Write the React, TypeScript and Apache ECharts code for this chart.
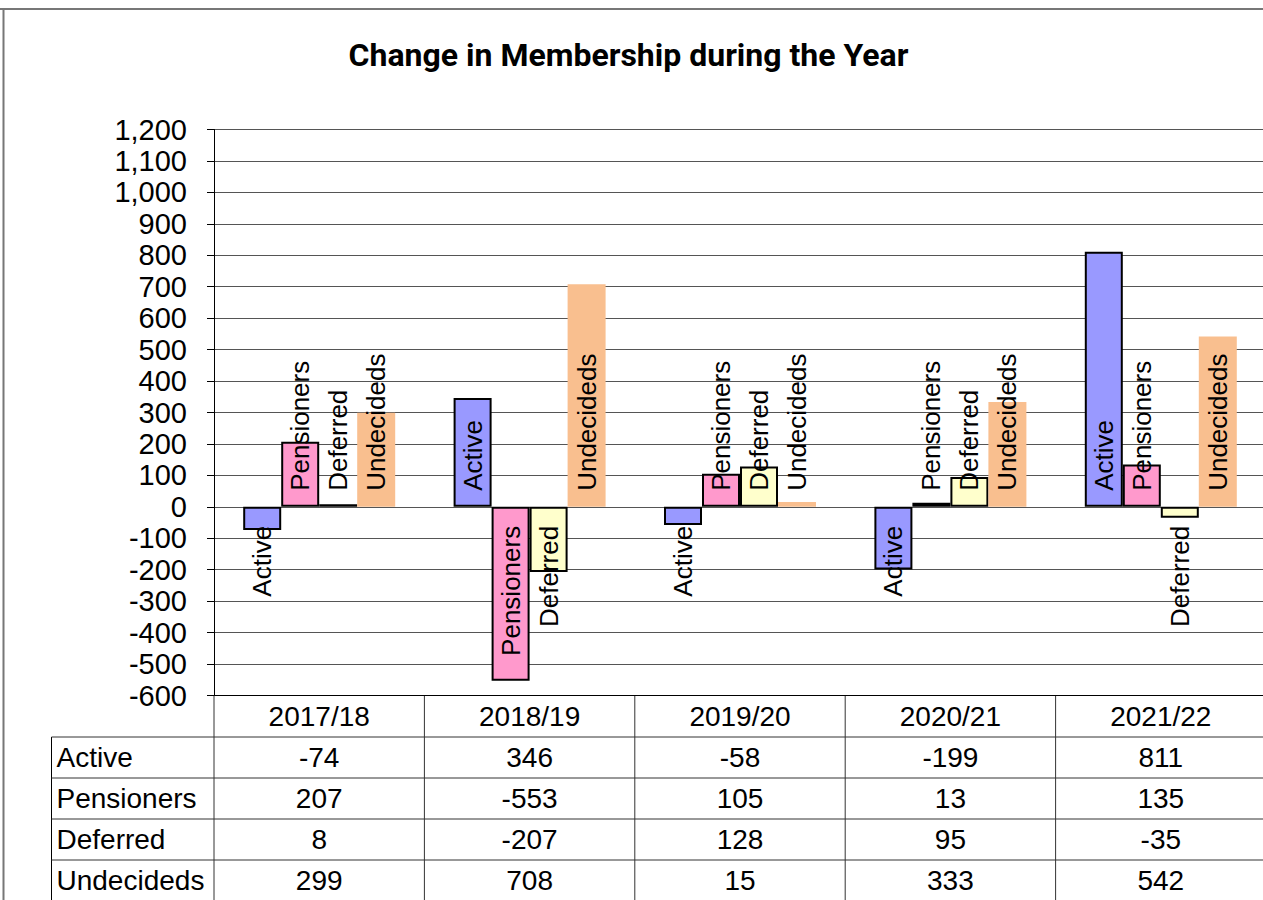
import React, { useEffect, useRef } from "react";
import * as echarts from "echarts";

const categories = ["2017/18", "2018/19", "2019/20", "2020/21", "2021/22"];
const seriesNames = ["Active", "Pensioners", "Deferred", "Undecideds"];
const active = [-74, 346, -58, -199, 811];
const pensioners = [207, -553, 105, 13, 135];
const deferred = [8, -207, 128, 95, -35];
const undecideds = [299, 708, 15, 333, 542];
const yMin = -600;
const yMax = 1200;
const yStep = 100;
const title = "Change in Membership during the Year";

const seriesValues = [active, pensioners, deferred, undecideds];
const seriesColors = ["#9999FF", "#FF99CC", "#FFFFCC", "#F9BF8F"];
const seriesBorder = [true, true, true, false];

const FONT = '"Liberation Sans", Arial, sans-serif';

export default function App() {
  const ref = useRef<HTMLDivElement>(null);
  useEffect(() => {
    if (!ref.current) return;
    const chart = echarts.init(ref.current, null, { renderer: "svg" });
    const series = seriesNames.map((name, si) => ({
      type: "bar",
      name,
      barWidth: 38,
      barGap: "0%",
      data: seriesValues[si].map((v) => ({
        value: v,
        label:
          v >= 0
            ? { position: "insideBottom", align: "left", distance: 16 }
            : { position: "insideTop", align: "right", distance: 19 },
      })),
      itemStyle: {
        color: seriesColors[si],
        borderColor: seriesBorder[si] ? "#000" : seriesColors[si],
        borderWidth: seriesBorder[si] ? 2 : 0,
      },
      label: {
        show: true,
        rotate: 90,
        formatter: "{a}",
        verticalAlign: "middle",
        fontSize: 26,
        fontFamily: FONT,
        color: "#000",
      },
      emphasis: { disabled: true },
    }));
    chart.setOption({
      animation: false,
      backgroundColor: "#fff",
      grid: { left: 214, top: 129.5, width: 1052, height: 566 },
      xAxis: {
        type: "category",
        data: categories,
        axisLine: { show: true, onZero: false, lineStyle: { color: "#000", width: 1 } },
        axisTick: { show: false },
        axisLabel: { show: false },
        splitLine: { show: false },
      },
      yAxis: {
        type: "value",
        min: yMin,
        max: yMax,
        interval: yStep,
        axisLine: { show: true, lineStyle: { color: "#000", width: 1 } },
        axisTick: { show: true, length: 7, lineStyle: { color: "#000" } },
        axisLabel: {
          fontSize: 29,
          fontFamily: FONT,
          color: "#000",
          margin: 27,
          formatter: (v: number) => v.toLocaleString("en-US"),
        },
        splitLine: { show: true, lineStyle: { color: "#555", width: 1 } },
      },
      series,
    });

    // Data table and frame, positioned from the chart's own scales
    const xs = categories.map((_, i) => chart.convertToPixel({ xAxisIndex: 0 }, i) as number);
    const half = (xs[1] - xs[0]) / 2;
    const bottomY = chart.convertToPixel({ yAxisIndex: 0 }, yMin) as number;
    const headerH = 41.5;
    const rowH = 41;
    const tableLeft = 51.5;
    const tableRight = xs[xs.length - 1] + half;
    const pageBottom = 900;
    const g: any[] = [];
    const line = (x1: number, y1: number, x2: number, y2: number, stroke = "#000", lw = 1) =>
      g.push({ type: "line", silent: true, shape: { x1, y1, x2, y2 }, style: { stroke, lineWidth: lw } });
    const text = (t: string, x: number, y: number, align: string, size = 28, weight = "normal", family = FONT) =>
      g.push({
        type: "text",
        silent: true,
        x,
        y,
        style: {
          text: t,
          align,
          verticalAlign: "middle",
          fontSize: size,
          fontWeight: weight,
          fontFamily: family,
          fill: "#000",
        },
      });
    // outer frame
    line(0, 9, 1270, 9, "#777", 2);
    line(3.5, 9, 3.5, 900, "#777", 2);
    // title
    text(title, 628.5, 55, "center", 32, "bold", 'Roboto, "Noto Sans", sans-serif');
    // vertical column separators
    xs.forEach((x) => line(x - half, bottomY, x - half, pageBottom, "#333", 1));
    line(tableRight, bottomY, tableRight, pageBottom, "#333", 1);
    line(tableLeft, bottomY + headerH, tableLeft, pageBottom, "#000", 1);
    // header
    categories.forEach((c, i) => text(c, xs[i], bottomY + headerH / 2, "center"));
    // rows
    seriesNames.forEach((name, si) => {
      const top = bottomY + headerH + si * rowH;
      line(tableLeft, top, tableRight, top, "#333", 1);
      text(name, tableLeft + 5, top + rowH / 2, "left");
      seriesValues[si].forEach((v, i) => text(String(v), xs[i], top + rowH / 2, "center"));
    });
    chart.setOption({ graphic: g });
    return () => chart.dispose();
  }, []);
  return (
    <div
      style={{ position: "fixed", left: 0, top: 0, width: 1263, height: 900, overflow: "hidden", background: "#fff" }}
    >
      <div ref={ref} style={{ width: 1270, height: 900 }} />
    </div>
  );
}
